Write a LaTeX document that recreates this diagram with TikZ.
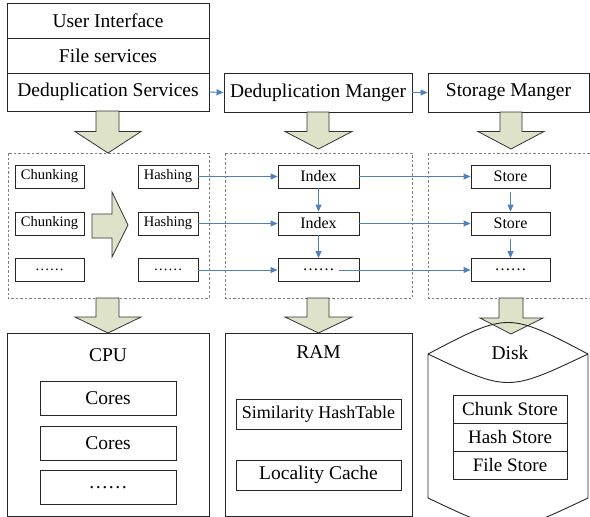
\documentclass[tikz,border=0pt]{standalone}
\usepackage{fontspec}
\setmainfont{Liberation Serif}
\usetikzlibrary{arrows.meta}
\definecolor{bigfill}{RGB}{221,226,200}
\definecolor{lineblue}{RGB}{79,129,189}
\definecolor{dashgray}{RGB}{128,128,128}
\begin{document}
\begin{tikzpicture}[x=1pt,y=-1pt,
  box/.style={draw=black!85,line width=0.9pt,inner sep=0pt,fill=white},
  big/.style={font=\fontsize{19.5}{21}\selectfont},
  small/.style={font=\fontsize{14.5}{16}\selectfont},
  mid/.style={font=\fontsize{16}{18}\selectfont},
  blarrow/.style={draw=lineblue,line width=0.9pt,-{Triangle[length=7pt,width=6pt]}},
  dashbox/.style={draw=dashgray,dashed,line width=0.6pt,dash pattern=on 2.5pt off 2pt},
  bigarrow/.style={draw=black!80,line width=0.8pt,fill=bigfill,line join=miter}]
\clip (0,0) rectangle (590,517);
\fill[white] (0,0) rectangle (590,517);

% top stack
\node[box,big,minimum width=202,minimum height=35] (ui) at (108,20.5) {User Interface};
\node[box,big,minimum width=202,minimum height=35] (fs) at (108,55.5) {File services};
\node[box,big,minimum width=202,minimum height=38] (ds) at (108,92) {Deduplication Services};
\node[box,big,minimum width=188,minimum height=39] (dm) at (318,92.5) {Deduplication Manger};
\node[box,big,minimum width=161,minimum height=39] (sm) at (508.5,92.5) {Storage Manger};
\draw[blarrow] (ds.east) -- (dm.west);
\draw[blarrow] (dm.east) -- (sm.west);

% big down arrows (top)
\draw[bigarrow] (96,111) -- (119,111) -- (119,131.5) -- (141,131.5) -- (108,153) -- (75,131.5) -- (96,131.5) -- cycle;
\draw[bigarrow] (307,112) -- (329,112) -- (329,131.5) -- (352,131.5) -- (318.5,149) -- (285,131.5) -- (307,131.5) -- cycle;
\draw[bigarrow] (500,112) -- (522,112) -- (522,131.5) -- (544,131.5) -- (511,149) -- (478,131.5) -- (500,131.5) -- cycle;

% dashed boxes
\draw[dashbox] (8,153) rectangle (209,298);
\draw[dashbox] (225,153) rectangle (412,298);
\draw[dashbox] (428,153) rectangle (600,298);

% left group
\node[box,small,minimum width=69,minimum height=23] (c1) at (49.5,176.5) {Chunking};
\node[box,small,minimum width=69,minimum height=23] (c2) at (49.5,223.5) {Chunking};
\node[box,small,minimum width=69,minimum height=23] (c3) at (49.5,270) {……};
\node[box,small,minimum width=60,minimum height=23] (h1) at (168,176.5) {Hashing};
\node[box,small,minimum width=60,minimum height=23] (h2) at (168,223.5) {Hashing};
\node[box,small,minimum width=60,minimum height=23] (h3) at (168,270) {……};
\draw[bigarrow] (92,214) -- (112,214) -- (112,192) -- (128,225) -- (112,257) -- (112,238) -- (92,238) -- cycle;

% index group
\node[box,mid,minimum width=81,minimum height=23] (i1) at (318.5,176.5) {Index};
\node[box,mid,minimum width=81,minimum height=23] (i2) at (318.5,223.5) {Index};
\node[box,mid,minimum width=81,minimum height=23] (i3) at (318.5,270) {……};
% store group
\node[box,mid,minimum width=79,minimum height=23] (s1) at (510.5,176.5) {Store};
\node[box,mid,minimum width=79,minimum height=23] (s2) at (510.5,223.5) {Store};
\node[box,mid,minimum width=79,minimum height=23] (s3) at (510.5,270) {……};
\coordinate (i3dots) at (339,270);

\draw[blarrow] (h1.east) -- (i1.west);
\draw[blarrow] (h2.east) -- (i2.west);
\draw[blarrow] (h3.east) -- (i3.west);
\draw[blarrow] (i1.east) -- (s1.west);
\draw[blarrow] (i2.east) -- (s2.west);
\draw[blarrow] (i3dots) -- (s3.west);
\draw[blarrow] (i1.south) -- (i2.north);
\draw[blarrow] (i2.south) -- (i3.north);
\draw[blarrow,shorten <=3.5pt] (s1.south) -- (s2.north);
\draw[blarrow,shorten <=3.5pt] (s2.south) -- (s3.north);

% big down arrows (bottom)
\draw[bigarrow] (96,298) -- (119,298) -- (119,317) -- (141,317) -- (108,333) -- (75,317) -- (96,317) -- cycle;
\draw[bigarrow] (307,298) -- (329,298) -- (329,317) -- (352,317) -- (318.5,333) -- (285,317) -- (307,317) -- cycle;
\draw[bigarrow] (499,298) -- (523,298) -- (523,318) -- (543,318) -- (511,334) -- (480,318) -- (499,318) -- cycle;

% CPU
\node[box,fill=none,minimum width=202,minimum height=183] (cpu) at (108,424.5) {};
\node[big] (cputxt) at (108,355) {CPU};
\node[box,big,minimum width=136,minimum height=34] (co1) at (108,398) {Cores};
\node[box,big,minimum width=136,minimum height=34] (co2) at (108,443) {Cores};
\node[box,big,minimum width=136,minimum height=34] (co3) at (108,487.5) {……};

% RAM
\node[box,fill=none,minimum width=187,minimum height=183] (ram) at (318.5,424.5) {};
\node[big] (ramtxt) at (318.5,352) {RAM};
\node[box,font=\fontsize{18}{20}\selectfont,minimum width=165,minimum height=30] (sim) at (318.5,414) {Similarity HashTable};
\node[box,big,minimum width=165,minimum height=30] (loc) at (318.5,475) {Locality Cache};

% Disk
\draw[draw=black!85,line width=0.9pt]
  (428,354) .. controls (508,312) .. (588,354)
  (428,354) .. controls (508,392) .. (588,354)
  (428,354) -- (428,498) .. controls (508,536) .. (588,498) -- (588,354);
\node[big] (disktxt) at (510,353) {Disk};
\node[box,font=\fontsize{19}{20}\selectfont,minimum width=114,minimum height=28] (cs) at (510,409) {Chunk Store};
\node[box,font=\fontsize{19}{20}\selectfont,minimum width=114,minimum height=28] (hs) at (510,437) {Hash Store};
\node[box,font=\fontsize{19}{20}\selectfont,minimum width=114,minimum height=28] (fst) at (510,465) {File Store};
\end{tikzpicture}
\end{document}
